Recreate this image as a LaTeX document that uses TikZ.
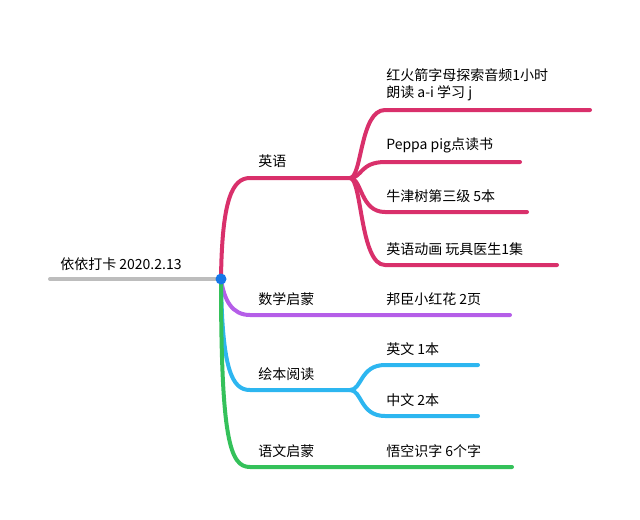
\documentclass[tikz,border=0pt]{standalone}
\usepackage{fontspec}
\setmainfont{Noto Sans CJK SC}
\definecolor{eng}{HTML}{D9306B}
\definecolor{mat}{HTML}{B55EE8}
\definecolor{pic}{HTML}{2DB6F0}
\definecolor{chi}{HTML}{34C15A}
\definecolor{gry}{HTML}{BDBDBD}
\definecolor{dot}{HTML}{1677E8}
\begin{document}
\begin{tikzpicture}[x=0.75pt,y=-0.75pt,
  br/.style={line width=3pt,line cap=round},
  lab/.style={anchor=south west,inner sep=0pt,font=\fontsize{10.5pt}{13pt}\selectfont,align=left}]
\useasboundingbox (0,0) rectangle (640,519);
\coordinate (r) at (221,279);
\draw[br,gry] (50,279) -- (r);
\node[lab] (rt) at (60,271) {依依打卡 2020.2.13};
% English
\coordinate (e0) at (250,178); \coordinate (e1) at (350,178);
\draw[br,eng] (r) .. controls (222,200) and (232,178) .. (e0) -- (e1);
\node[lab] (el) at (258,168) {英语};
\foreach \y/\e/\n in {110/590/a,162/520/b,212/527/c,265/557/d}{
  \coordinate (s\n) at (385,\y); \coordinate (t\n) at (\e,\y);
  \draw[br,eng] (e1) .. controls (362,178) and (360,\y) .. (s\n) -- (t\n);}
\node[lab] (ea) at (386,101) {红火箭字母探索音频1小时\\朗读 a-i 学习 j};
\node[lab] (eb) at (386,153) {Peppa pig点读书};
\node[lab] (ec) at (386,203) {牛津树第三级 5本};
\node[lab] (ed) at (386,256) {英语动画 玩具医生1集};
% Math
\coordinate (m0) at (250,315); \coordinate (m1) at (510,315);
\draw[br,mat] (r) .. controls (224,300) and (232,315) .. (m0) -- (m1);
\node[lab] (ml) at (258,306) {数学启蒙};
\node[lab] (mr) at (386,306) {邦臣小红花 2页};
% Picture books
\coordinate (p0) at (250,390); \coordinate (p1) at (350,390);
\draw[br,pic] (r) .. controls (222,370) and (232,390) .. (p0) -- (p1);
\node[lab] (pl) at (258,381) {绘本阅读};
\foreach \y/\n in {365/a,416/b}{
  \coordinate (q\n) at (385,\y); \coordinate (u\n) at (478,\y);
  \draw[br,pic] (p1) .. controls (362,390) and (360,\y) .. (q\n) -- (u\n);}
\node[lab] (pa) at (386,356) {英文 1本};
\node[lab] (pb) at (386,407) {中文 2本};
% Chinese
\coordinate (c0) at (250,467); \coordinate (c1) at (512,467);
\draw[br,chi] (r) .. controls (221,440) and (230,467) .. (c0) -- (c1);
\node[lab] (cl) at (258,458) {语文启蒙};
\node[lab] (cr) at (386,458) {悟空识字 6个字};
\fill[dot] (r) circle (5.5);
\end{tikzpicture}
\end{document}
